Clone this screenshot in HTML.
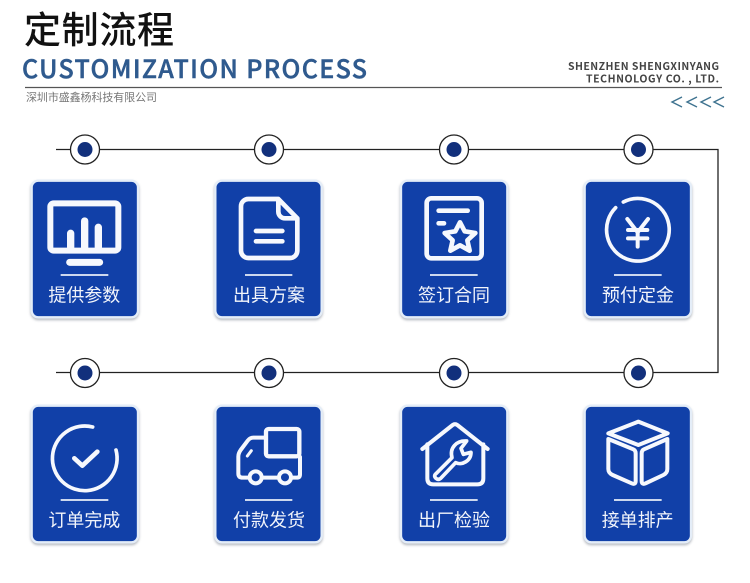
<!DOCTYPE html>
<html lang="zh">
<head>
<meta charset="utf-8">
<title>定制流程</title>
<style>
html,body{margin:0;padding:0;background:#fff}
svg{display:block;filter:blur(.35px)}
text{font-family:"Noto Sans CJK SC","Liberation Sans",sans-serif}
.card{fill:#1140a8;stroke:#e4edf8;stroke-width:7;filter:drop-shadow(0 5px 4px rgba(60,70,90,.38))}
.ic{fill:none;stroke:#f6f8fd;stroke-linecap:round;stroke-linejoin:round}
.div{stroke:#e8eef8;stroke-width:5}
.lb{fill:#f2f5fb;font-size:54px;font-weight:400;text-anchor:middle}
.ring{fill:#fff;stroke:#222;stroke-width:1.3}
.dot{fill:#12307c}
</style>
</head>
<body>
<svg width="750" height="583" viewBox="0 0 750 583" xmlns="http://www.w3.org/2000/svg">
<rect width="750" height="583" fill="#fff"/>

<!-- Header -->
<text x="24" y="43" font-size="37" font-weight="500" fill="#111" textLength="150" lengthAdjust="spacing">定制流程</text>
<text x="22" y="78" font-size="25" font-weight="500" fill="#2f5a8e" stroke="#2f5a8e" stroke-width=".5" textLength="345" lengthAdjust="spacing">CUSTOMIZATION PROCESS</text>
<line x1="25" y1="87.5" x2="722" y2="87.5" stroke="#555" stroke-width="1.2"/>
<text x="26" y="101" font-size="11" fill="#777" textLength="131" lengthAdjust="spacing">深圳市盛鑫杨科技有限公司</text>
<text x="719" y="70" font-size="10.5" font-weight="700" fill="#444" text-anchor="end" textLength="151" lengthAdjust="spacing">SHENZHEN SHENGXINYANG</text>
<text x="719" y="82.500" font-size="10.5" font-weight="700" fill="#444" text-anchor="end" textLength="133" lengthAdjust="spacing">TECHNOLOGY CO. , LTD.</text>
<g fill="none" stroke="#3f7390" stroke-width="1.4">
<polyline points="682,97 672,102 682,107"/>
<polyline points="697,97 687,102 697,107"/>
<polyline points="711,97 701,102 711,107"/>
<polyline points="724,97 714,102 724,107"/>
</g>

<!-- Connectors -->
<path d="M56 149.5H718V372.5H56" fill="none" stroke="#222" stroke-width="1.3"/>
<g>
<circle class="ring" cx="85" cy="149.5" r="14.5"/><circle class="dot" cx="85" cy="149.5" r="7.5"/>
<circle class="ring" cx="269" cy="149.5" r="14.5"/><circle class="dot" cx="269" cy="149.5" r="7.5"/>
<circle class="ring" cx="454" cy="149.5" r="14.5"/><circle class="dot" cx="454" cy="149.5" r="7.5"/>
<circle class="ring" cx="638.500" cy="149.5" r="14.5"/><circle class="dot" cx="638.500" cy="149.5" r="7.5"/>
<circle class="ring" cx="85" cy="373" r="14.5"/><circle class="dot" cx="85" cy="373" r="7.5"/>
<circle class="ring" cx="269" cy="373" r="14.5"/><circle class="dot" cx="269" cy="373" r="7.5"/>
<circle class="ring" cx="454" cy="373" r="14.5"/><circle class="dot" cx="454" cy="373" r="7.5"/>
<circle class="ring" cx="638.500" cy="373" r="14.5"/><circle class="dot" cx="638.500" cy="373" r="7.5"/>
</g>

<!-- Row 1 left -->
<g transform="translate(20,170) scale(.33333)">
<rect class="card" x="35" y="32" width="319" height="410" rx="20"/>
<rect class="card" x="586" y="32" width="319" height="410" rx="20"/>
<rect class="ic" x="91" y="100" width="204" height="142" rx="10" stroke-width="18"/>
<path class="ic" d="M152 190V232M194 153V232M235 172V232" stroke-width="22"/>
<path class="ic" d="M149 277H239" stroke-width="21"/>
<path class="div" d="M122 315H265M675 315H817"/>
<text class="lb" x="193" y="395">提供参数</text>
<path class="ic" d="M775 87H685a22 22 0 0 0-22 22V242a22 22 0 0 0 22 22H810a22 22 0 0 0 22-22V145ZM775 87V125a20 20 0 0 0 20 20H832" stroke-width="14"/>
<path class="ic" d="M708 183H787M708 214H787" stroke-width="14"/>
<text class="lb" x="747" y="395">出具方案</text>
</g>

<!-- Row 1 right -->
<g transform="translate(390,170) scale(.33333)">
<rect class="card" x="33" y="32" width="319" height="410" rx="20"/>
<rect class="card" x="584" y="32" width="319" height="410" rx="20"/>
<rect class="ic" x="110" y="85" width="165" height="180" rx="14" stroke-width="14"/>
<path class="ic" d="M146 122H233M146 160H162" stroke-width="14"/>
<path class="ic" d="M210 157L224 184L256 189L232 211L239 242L210 226L181 242L188 211L164 189L196 184Z" stroke-width="14"/>
<path class="div" d="M120 315H263M672 315H815"/>
<text class="lb" x="192" y="395">签订合同</text>
<path class="ic" d="M700 96A94 94 0 1 1 677 113" stroke-width="11"/>
<path class="ic" d="M712 147L743 187L774 147M714 180H772M714 205H772M743 187V230" stroke-width="12"/>
<text class="lb" x="744" y="395">预付定金</text>
</g>

<!-- Row 2 left -->
<g transform="translate(20,395) scale(.33333)">
<rect class="card" x="35" y="32" width="319" height="410" rx="20"/>
<rect class="card" x="586" y="32" width="319" height="410" rx="20"/>
<path class="ic" d="M288 165A97 97 0 1 1 218 96" stroke-width="11"/>
<path class="ic" d="M163 190L187 212L232 170" stroke-width="14"/>
<path class="div" d="M122 315H265M675 315H817"/>
<text class="lb" x="193" y="395">订单完成</text>
<rect class="ic" x="738" y="102" width="100" height="82" rx="8" stroke-width="13"/>
<path class="ic" d="M733 128H700Q690 128 683 137L662 165Q655 175 655 185V235Q655 248 668 248H686M728 248H774M816 248H830Q840 248 840 238V186" stroke-width="12"/>
<circle class="ic" cx="707" cy="247" r="18" stroke-width="12"/>
<circle class="ic" cx="795" cy="247" r="18" stroke-width="12"/>
<path class="ic" d="M682 183L694 167" stroke-width="9"/>
<text class="lb" x="747" y="395">付款发货</text>
</g>

<!-- Row 2 right -->
<g transform="translate(390,395) scale(.33333)">
<rect class="card" x="33" y="32" width="319" height="410" rx="20"/>
<rect class="card" x="584" y="32" width="319" height="410" rx="20"/>
<path class="ic" d="M97 162L188 90Q195 85 202 90L293 162M112 148V250Q112 268 130 268H262Q280 268 280 250V148" stroke-width="12"/>
<path class="ic" d="M138 236L186 188C178 158 200 136 230 138L213 160L220 178L243 172C243 198 215 212 197 203L152 250Q145 256 138 250Q130 243 138 236Z" stroke-width="11"/>
<path class="div" d="M120 315H263M672 315H815"/>
<text class="lb" x="192" y="395">出厂检验</text>
<path class="ic" d="M745 80L833 115L745 150L655 115Z" stroke-width="12"/>
<path class="ic" d="M655 132L730 163Q737 166 737 175V258Q737 270 725 265L668 240Q655 234 655 222Z" stroke-width="12"/>
<path class="ic" d="M832 132L762 163Q755 166 755 175V258Q755 270 767 265L820 240Q832 234 832 222Z" stroke-width="12"/>
<text class="lb" x="743" y="395">接单排产</text>
</g>
</svg>
</body>
</html>
